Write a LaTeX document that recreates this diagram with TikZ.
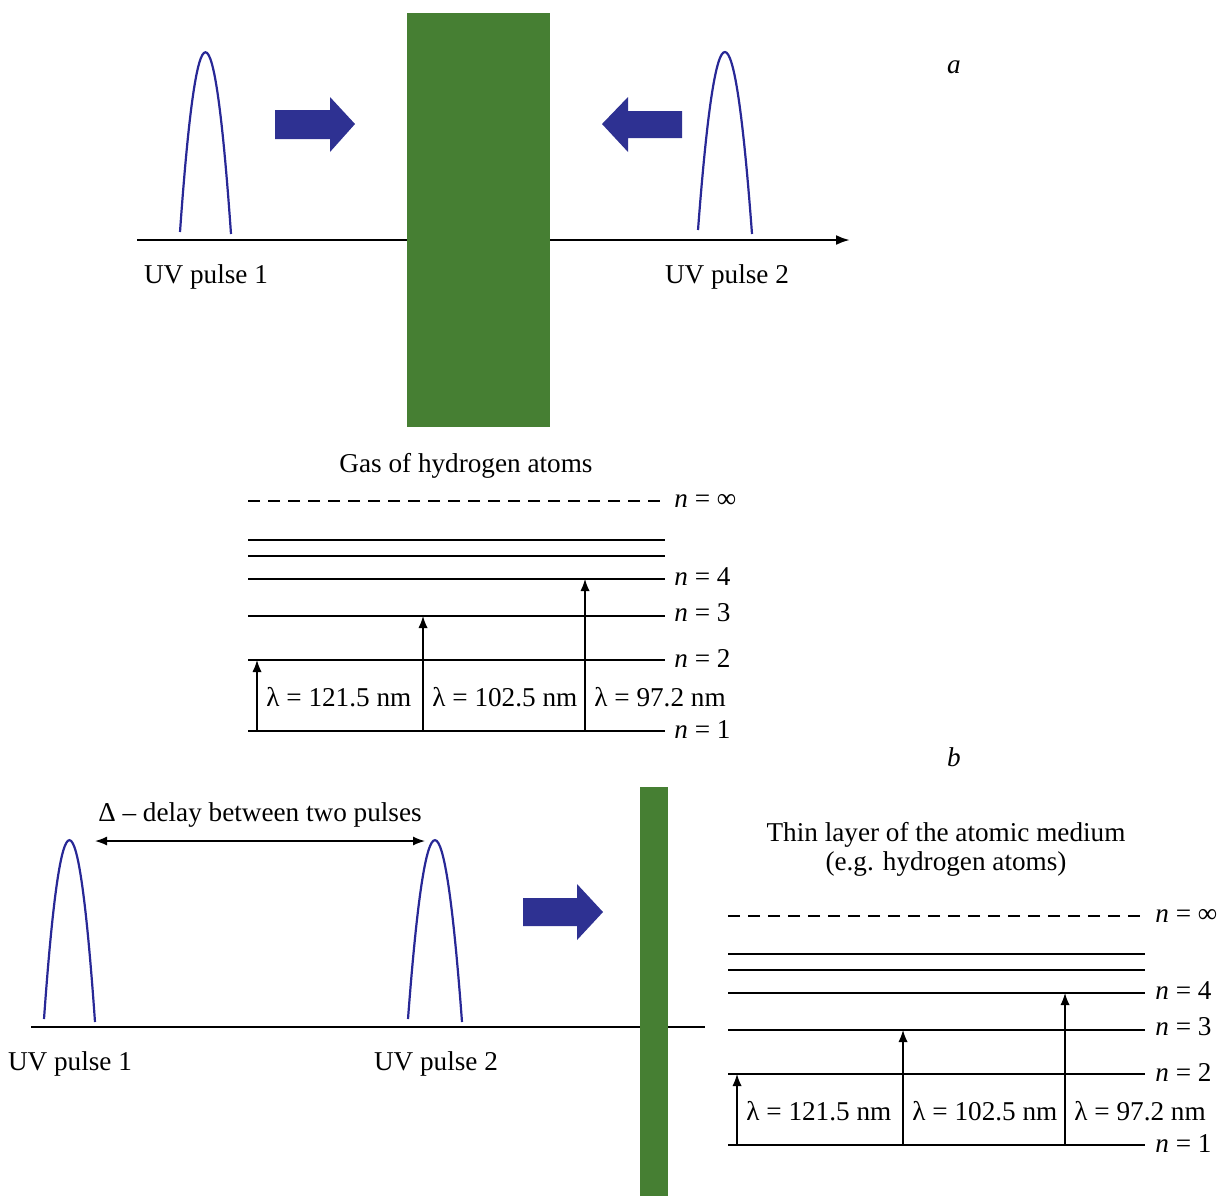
\documentclass[tikz,border=0pt]{standalone}
\usepackage{fontspec}
\setmainfont{Liberation Serif}
\usetikzlibrary{arrows.meta}
\definecolor{gasgreen}{RGB}{70,127,51}
\definecolor{pulseblue}{RGB}{40,40,150}
\definecolor{arrowblue}{RGB}{46,49,146}
\begin{document}
\begin{tikzpicture}[x=0.5pt,y=-0.5pt,
  txt/.style={inner sep=0pt,font=\fontsize{13.6}{15.5}\selectfont},
  level/.style={line width=1pt,black},
  dashlevel/.style={line width=1pt,black,dash pattern=on 6pt off 4pt},
  pulse/.style={line width=1.1pt,pulseblue},
  axis/.style={line width=1.2pt,black},
  trans/.style={line width=0.6pt,-{Latex[length=6pt,width=4.6pt]}},
  bigarrow/.style={fill=arrowblue,draw=none},
  medium/.style={fill=gasgreen,draw=none}]
\useasboundingbox (0,0) rectangle (1218,1196);

% ---------------- panel a ----------------
\coordinate (aL) at (137,240);
\coordinate (aR) at (850,240);
\draw[axis,-{Latex[length=7pt,width=5pt]}] (aL) -- (aR);
\fill[medium] (407,13) rectangle (550,427);
\draw[pulse] (180,232) .. controls (197,-8) and (214,-8) .. (231,234);
\draw[pulse] (698,230) .. controls (716,-8) and (734,-8) .. (752,234);
\fill[bigarrow] (275,110) -- (330,110) -- (330,97) -- (355,124) -- (330,152) -- (330,139) -- (275,139) -- cycle;
\fill[bigarrow] (682,111) -- (628,111) -- (628,97) -- (602,124) -- (628,152) -- (628,138) -- (682,138) -- cycle;
\node[txt] (ap1) at (206,277) {UV pulse 1};
\node[txt] (ap2) at (727,277) {UV pulse 2};
\node[txt] (alab) at (954,67) {\textit{a}};
\node[txt] (agas) at (466,466) {Gas of hydrogen atoms};

% levels a
\draw[dashlevel] (248,501) -- (660,501);
\draw[level] (248,540) -- (665,540);
\draw[level] (248,556) -- (665,556);
\draw[level] (248,579) -- (665,579);
\draw[level] (248,616) -- (665,616);
\draw[level] (248,660) -- (665,660);
\draw[level] (248,731) -- (665,731);
\node[txt,anchor=west] (ainf) at (674,501) {\textit{n} = ∞};
\node[txt,anchor=west] (an4) at (674,577) {\textit{n} = 4};
\node[txt,anchor=west] (an3) at (674,613) {\textit{n} = 3};
\node[txt,anchor=west] (an2) at (674,658) {\textit{n} = 2};
\node[txt,anchor=west] (an1) at (674,729) {\textit{n} = 1};
\coordinate (a1b) at (257,731); \coordinate (a1t) at (257,660);
\coordinate (a2b) at (423,731); \coordinate (a2t) at (423,616);
\coordinate (a3b) at (585,731); \coordinate (a3t) at (585,579);
\draw[trans] (a1b) -- (a1t);
\draw[trans] (a2b) -- (a2t);
\draw[trans] (a3b) -- (a3t);
\node[txt,anchor=west] (al1) at (266,697) {λ = 121.5 nm};
\node[txt,anchor=west] (al2) at (432,697) {λ = 102.5 nm};
\node[txt,anchor=west] (al3) at (594,697) {λ = 97.2 nm};
\node[txt] (blab) at (954,757) {\textit{b}};

% ---------------- panel b ----------------
\coordinate (bL) at (31,1027);
\coordinate (bR) at (705,1027);
\draw[axis] (bL) -- (bR);
\fill[medium] (640,787) rectangle (668,1196);
\draw[pulse] (44,1019) .. controls (61,780) and (78,780) .. (95,1022);
\draw[pulse] (408,1019) .. controls (426,780) and (444,780) .. (462,1022);
\coordinate (dL) at (95,841);
\coordinate (dR) at (425,841);
\draw[line width=0.7pt,{Latex[length=6pt,width=4.5pt]}-{Latex[length=6pt,width=4.5pt]}] (dL) -- (dR);
\node[txt] (bdelay) at (260,815) {Δ – delay between two pulses};
\node[txt] (bp1) at (70,1064) {UV pulse 1};
\node[txt] (bp2) at (436,1064) {UV pulse 2};
\fill[bigarrow] (523,898) -- (577,898) -- (577,884) -- (603,912) -- (577,940) -- (577,926) -- (523,926) -- cycle;
\node[txt,align=center] (bthin) at (946,849) {Thin layer of the atomic medium\\[-1pt](e.g. hydrogen atoms)};

% levels b
\draw[dashlevel] (728,916) -- (1140,916);
\draw[level] (728,954) -- (1145,954);
\draw[level] (728,970) -- (1145,970);
\draw[level] (728,993) -- (1145,993);
\draw[level] (728,1030) -- (1145,1030);
\draw[level] (728,1074) -- (1145,1074);
\draw[level] (728,1145) -- (1145,1145);
\node[txt,anchor=west] (binf) at (1155,916) {\textit{n} = ∞};
\node[txt,anchor=west] (bn4) at (1155,991) {\textit{n} = 4};
\node[txt,anchor=west] (bn3) at (1155,1027) {\textit{n} = 3};
\node[txt,anchor=west] (bn2) at (1155,1072) {\textit{n} = 2};
\node[txt,anchor=west] (bn1) at (1155,1143) {\textit{n} = 1};
\coordinate (b1b) at (737,1145); \coordinate (b1t) at (737,1074);
\coordinate (b2b) at (903,1145); \coordinate (b2t) at (903,1030);
\coordinate (b3b) at (1065,1145); \coordinate (b3t) at (1065,993);
\draw[trans] (b1b) -- (b1t);
\draw[trans] (b2b) -- (b2t);
\draw[trans] (b3b) -- (b3t);
\node[txt,anchor=west] (bl1) at (746,1111) {λ = 121.5 nm};
\node[txt,anchor=west] (bl2) at (912,1111) {λ = 102.5 nm};
\node[txt,anchor=west] (bl3) at (1074,1111) {λ = 97.2 nm};
\end{tikzpicture}
\end{document}
